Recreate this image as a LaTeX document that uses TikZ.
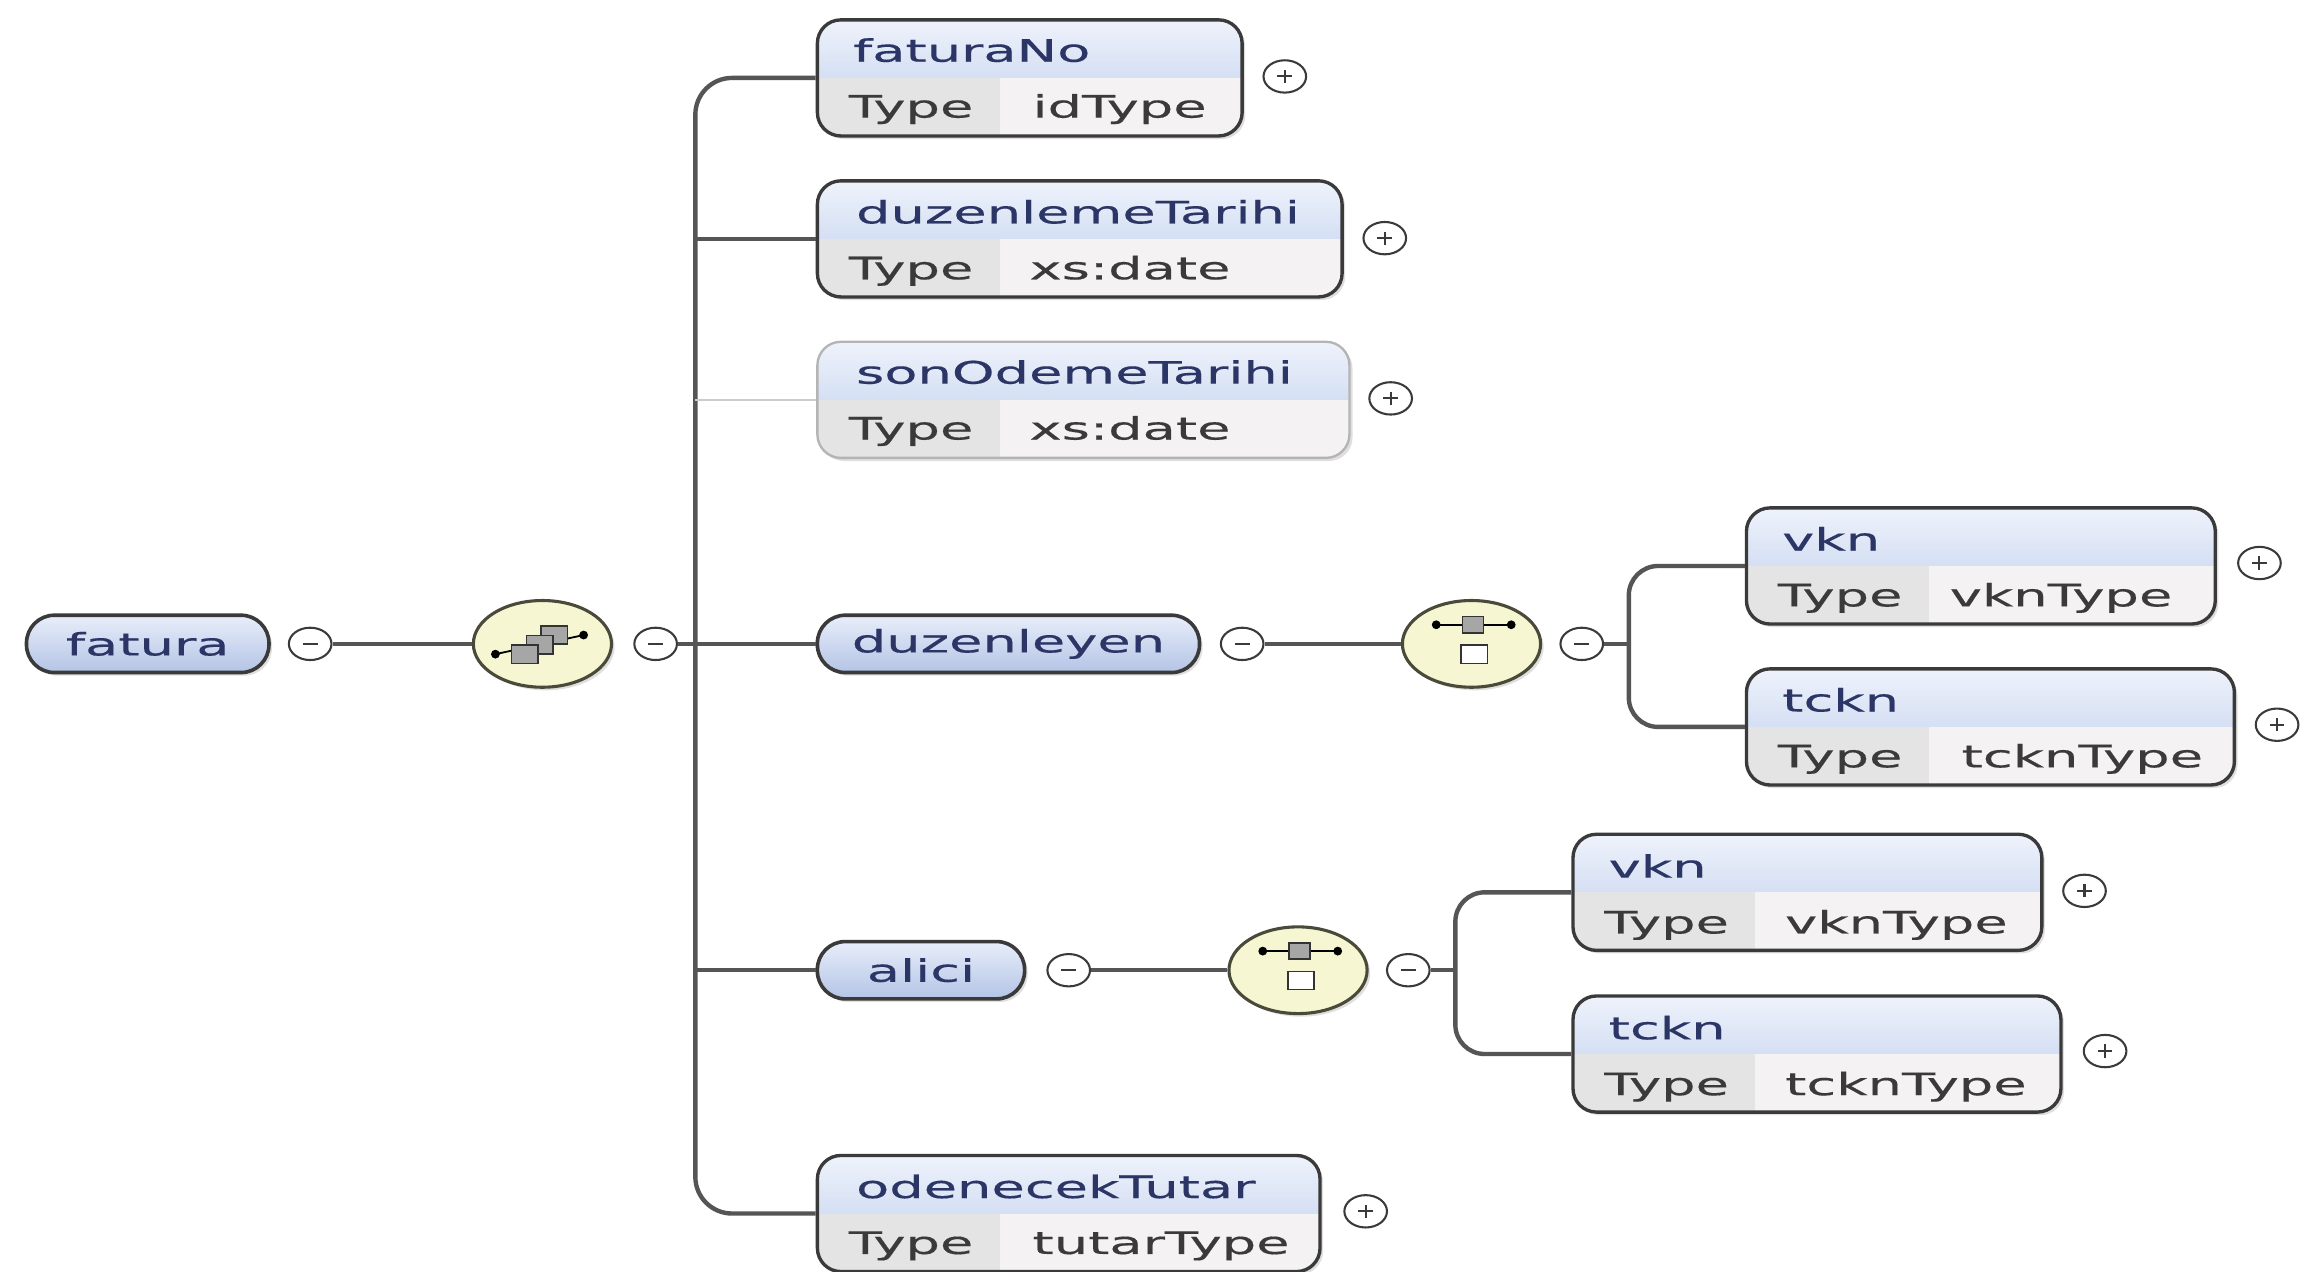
\documentclass[tikz,border=0pt]{standalone}
\usepackage{fontspec}
\setmainfont{DejaVu Sans}[FakeStretch=1.75, FakeBold=0.4]
\usetikzlibrary{shapes.geometric,shadows}

\definecolor{edge}{HTML}{3A3A3A}
\definecolor{lineCol}{HTML}{555555}
\definecolor{lightEdge}{HTML}{B4B4B4}
\definecolor{hdTop}{HTML}{EEF2FB}
\definecolor{hdBot}{HTML}{BCCDEC}
\definecolor{typeFill}{HTML}{E4E4E4}
\definecolor{valFill}{HTML}{F4F2F2}
\definecolor{pillTop}{HTML}{E8EEFA}
\definecolor{pillBot}{HTML}{B4C4E6}
\definecolor{compFill}{HTML}{F6F6D2}
\definecolor{compEdge}{HTML}{4A4A3A}
\definecolor{nameCol}{HTML}{2B3566}
\definecolor{typeCol}{HTML}{3A3A3A}

\tikzset{
  golge/.style={drop shadow={shadow xshift=1.2pt, shadow yshift=-1.2pt, opacity=0.25}},
  elem/.style={draw=edge, line width=1.3pt, rounded corners=0.32cm, minimum height=1.58cm,
    inner sep=0pt, golge,
    path picture={
      \fill[sharp corners, top color=hdTop, bottom color=hdBot]
        (path picture bounding box.north west) rectangle (path picture bounding box.east);
      \fill[sharp corners, typeFill]
        (path picture bounding box.west) rectangle ([xshift=2.48cm]path picture bounding box.south west);
      \fill[sharp corners, valFill]
        ([xshift=2.48cm]path picture bounding box.west) rectangle (path picture bounding box.south east);
    }},
  opt/.style={elem, draw=lightEdge, line width=0.9pt},
  pill/.style={draw=edge, line width=1.4pt, rounded corners=0.38cm, minimum height=0.78cm,
    top color=pillTop, bottom color=pillBot, text=nameCol, golge},
  comp/.style={ellipse, draw=compEdge, line width=1.2pt, fill=compFill,
    minimum width=1.88cm, minimum height=1.18cm, golge},
  sembol/.style={ellipse, draw=edge, line width=0.8pt, fill=white,
    minimum width=0.58cm, minimum height=0.44cm, inner sep=0pt},
  eksi/.style={sembol, path picture={
      \draw[line width=0.8pt] ([xshift=-0.1cm]path picture bounding box.center)
        -- ([xshift=0.1cm]path picture bounding box.center);}},
  arti/.style={sembol, path picture={
      \draw[line width=0.8pt] ([xshift=-0.1cm]path picture bounding box.center)
        -- ([xshift=0.1cm]path picture bounding box.center);
      \draw[line width=0.8pt] ([yshift=-0.09cm]path picture bounding box.center)
        -- ([yshift=0.09cm]path picture bounding box.center);}},
  conn/.style={draw=lineCol, line width=1.7pt},
  thinconn/.style={draw=lightEdge!70, line width=0.6pt},
  ttl/.style={anchor=base west, inner sep=0pt, text=nameCol},
  typ/.style={anchor=base west, inner sep=0pt, text=typeCol},
  kutu/.style={draw=black!80, line width=0.6pt, fill=black!35, minimum width=0.36cm,
    minimum height=0.25cm, inner sep=0pt},
  nokta/.style={circle, fill=black, inner sep=0pt, minimum size=0.12cm},
}

\begin{document}
\begin{tikzpicture}[x=0.02cm, y=-0.02cm, font=\fontsize{12}{14}\selectfont]
    \useasboundingbox[fill=white] (0,0) rectangle (1568,865);

    % 要素
    \node[pill, minimum width=3.3cm] (fatura) at (100.5,438) {fatura};
    \node[eksi] (m1) at (211,438) {};
    \node[comp] (seq) at (369,438) {};
    \node[eksi] (m2) at (446,438) {};
    \coordinate (trunk) at (473,438);

    \node[elem, minimum width=5.78cm] (faturaNo) at (700.5,53) {};
    \node[elem, minimum width=7.14cm] (duzenlemeTarihi) at (734.5,162.5) {};
    \node[opt, minimum width=7.24cm] (sonOdemeTarihi) at (737,272) {};
    \node[pill, minimum width=5.2cm] (duzenleyen) at (686,438) {duzenleyen};
    \node[pill, minimum width=2.82cm] (alici) at (626.5,660) {alici};
    \node[elem, minimum width=6.84cm] (odenecekTutar) at (727,825.5) {};

    \node[eksi] (m3) at (845,438) {};
    \node[comp] (cho1) at (1001,438) {};
    \node[eksi] (m4) at (1076,438) {};
    \coordinate (br1) at (1108,438);
    \node[elem, minimum width=6.38cm] (vkn1) at (1347.5,385) {};
    \node[elem, minimum width=6.64cm] (tckn1) at (1354,494.5) {};

    \node[eksi] (m5) at (727,660) {};
    \node[comp] (cho2) at (883,660) {};
    \node[eksi] (m6) at (958,660) {};
    \coordinate (br2) at (990,660);
    \node[elem, minimum width=6.38cm] (vkn2) at (1229.5,607) {};
    \node[elem, minimum width=6.64cm] (tckn2) at (1236,717) {};

    \node[arti] (p1) at (874,52) {};
    \node[arti] (p2) at (942,162) {};
    \node[arti] (p3) at (946,271) {};
    \node[arti] (p4) at (1537,383) {};
    \node[arti] (p5) at (1549,493) {};
    \node[arti] (p6) at (1418,606) {};
    \node[arti] (p7) at (1432,715) {};
    \node[arti] (p8) at (929,824) {};

    % 線を引く
    \draw[conn] (m1) -- (seq);
    \draw[conn] (m2) -- (trunk) -- (duzenleyen);
    \draw[conn, rounded corners=0.5cm] (faturaNo.west) -| (trunk) |- (odenecekTutar.west);
    \draw[conn] (duzenlemeTarihi.west) -- (duzenlemeTarihi.west -| trunk);
    \draw[thinconn] (sonOdemeTarihi.west) -- (sonOdemeTarihi.west -| trunk);
    \draw[conn] (alici.west) -- (alici.west -| trunk);
    \draw[conn] (m3) -- (cho1);
    \draw[conn] (m4) -- (br1);
    \draw[conn, rounded corners=0.4cm] (vkn1.west) -| (br1) |- (tckn1.west);
    \draw[conn] (m5) -- (cho2);
    \draw[conn] (m6) -- (br2);
    \draw[conn, rounded corners=0.4cm] (vkn2.west) -| (br2) |- (tckn2.west);

    % 記号
    \begin{scope}[shift={(seq.center)}]
        \draw[line width=0.7pt] (-32,7) -- (28,-6);
        \node[nokta] (s-l) at (-32,7) {};
        \node[nokta] (s-r) at (28,-6) {};
        \node[kutu] (s3) at (8,-6) {};
        \node[kutu] (s2) at (-2,0.5) {};
        \node[kutu] (s1) at (-12,7) {};
    \end{scope}
    \begin{scope}[shift={(cho1.center)}]
        \draw[line width=0.7pt] (-24,-13) -- (27,-13);
        \node[nokta] (c1-l) at (-24,-13) {};
        \node[nokta] (c1-r) at (27,-13) {};
        \node[kutu, minimum width=0.28cm, minimum height=0.22cm] (c1-a) at (1,-13) {};
        \node[kutu, fill=white] (c1-b) at (2,7) {};
    \end{scope}
    \begin{scope}[shift={(cho2.center)}]
        \draw[line width=0.7pt] (-24,-13) -- (27,-13);
        \node[nokta] (c2-l) at (-24,-13) {};
        \node[nokta] (c2-r) at (27,-13) {};
        \node[kutu, minimum width=0.28cm, minimum height=0.22cm] (c2-a) at (1,-13) {};
        \node[kutu, fill=white] (c2-b) at (2,7) {};
    \end{scope}

    % 値を入れる
    \node[ttl] (faturaNo-ad) at (580,42) {faturaNo};
    \node[typ] (faturaNo-tip) at (577,80) {Type};
    \node[typ] (faturaNo-deg) at (702,80) {idType};
    \node[ttl] (duzenlemeTarihi-ad) at (582,152) {duzenlemeTarihi};
    \node[typ] (duzenlemeTarihi-tip) at (577,190) {Type};
    \node[typ] (duzenlemeTarihi-deg) at (700,190) {xs:date};
    \node[ttl] (sonOdemeTarihi-ad) at (582,261) {sonOdemeTarihi};
    \node[typ] (sonOdemeTarihi-tip) at (577,299) {Type};
    \node[typ] (sonOdemeTarihi-deg) at (700,299) {xs:date};
    \node[ttl] (vkn1-ad) at (1212,374.5) {vkn};
    \node[typ] (vkn1-tip) at (1209,412.5) {Type};
    \node[typ] (vkn1-deg) at (1326,412.5) {vknType};
    \node[ttl] (tckn1-ad) at (1212,484) {tckn};
    \node[typ] (tckn1-tip) at (1209,522) {Type};
    \node[typ] (tckn1-deg) at (1334,522) {tcknType};
    \node[ttl] (vkn2-ad) at (1094,597) {vkn};
    \node[typ] (vkn2-tip) at (1091,635) {Type};
    \node[typ] (vkn2-deg) at (1214,635) {vknType};
    \node[ttl] (tckn2-ad) at (1094,707) {tckn};
    \node[typ] (tckn2-tip) at (1091,745) {Type};
    \node[typ] (tckn2-deg) at (1214,745) {tcknType};
    \node[ttl] (odenecekTutar-ad) at (582,815) {odenecekTutar};
    \node[typ] (odenecekTutar-tip) at (577,853) {Type};
    \node[typ] (odenecekTutar-deg) at (702,853) {tutarType};

\end{tikzpicture}
\end{document}
